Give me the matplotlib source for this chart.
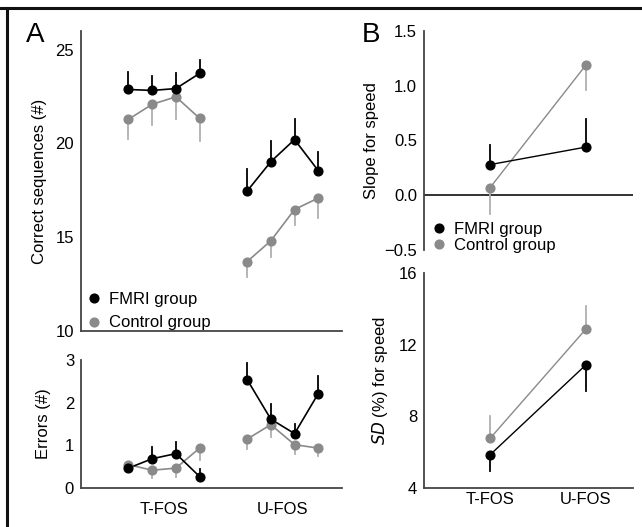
import matplotlib
matplotlib.use('Agg')
import matplotlib.pyplot as plt
from matplotlib.lines import Line2D

plt.rcParams['font.family'] = ['Liberation Sans', 'DejaVu Sans']
plt.rcParams['font.size'] = 12

# Panel A: sessions (4 T-FOS, 4 U-FOS)
sessions = [0, 1, 2, 3, 5, 6, 7, 8]
seq_fmri = [22.88, 22.83, 22.93, 23.74, 17.46, 19.03, 20.21, 18.55]
seq_fmri_err = [0.94, 0.78, 0.81, 0.71, 1.18, 1.08, 1.08, 0.99]
seq_ctrl = [21.29, 22.09, 22.49, 21.34, 13.70, 14.81, 16.48, 17.09]
seq_ctrl_err = [1.06, 1.12, 1.16, 1.23, 0.80, 0.85, 0.84, 1.05]

err_fmri = [0.46, 0.68, 0.80, 0.26, 2.54, 1.61, 1.27, 2.21]
err_fmri_err = [0.15, 0.28, 0.27, 0.18, 0.38, 0.35, 0.22, 0.41]
err_ctrl = [0.54, 0.41, 0.46, 0.93, 1.14, 1.48, 1.01, 0.93]
err_ctrl_err = [0.15, 0.19, 0.20, 0.29, 0.24, 0.29, 0.23, 0.19]

tick_a = [1.5, 6.5]
conditions = ['T-FOS', 'U-FOS']

# Panel B
cond_x = [0, 1]
slope_fmri = [0.28, 0.44]
slope_fmri_err = [0.18, 0.26]
slope_ctrl = [0.07, 1.19]
slope_ctrl_err = [0.24, 0.23]

sd_fmri = [5.84, 10.87]
sd_fmri_err = [0.91, 1.45]
sd_ctrl = [6.76, 12.87]
sd_ctrl_err = [1.24, 1.30]

BLACK = '#000000'
GRAY = '#8a8a8a'
ERR_GRAY = '#b0b0b0'
SPINE = '#444444'
MS = 6.3


def draw_group(ax, x, y, err, color, ecolor, direction, lw=1.2):
    # one-sided error bars, no caps
    for xi, yi, ei in zip(x, y, err):
        ax.plot([xi, xi], [yi, yi + direction * ei], color=ecolor, lw=1.3, zorder=1)
    ax.plot(x, y, color=color, lw=lw, zorder=2)
    ax.plot(x, y, 'o', color=color, markersize=MS, markeredgecolor=color, zorder=3)


def style(ax):
    for s in ['top', 'right']:
        ax.spines[s].set_visible(False)
    for s in ['left', 'bottom']:
        ax.spines[s].set_color(SPINE)
        ax.spines[s].set_linewidth(1.3)
    ax.tick_params(length=0, pad=5, labelsize=12)


def split(values, n=4):
    return values[:n], values[n:]


def draw_split(ax, y, err, color, ecolor, direction):
    xs1, xs2 = split(sessions)
    y1, y2 = split(y)
    e1, e2 = split(err)
    draw_group(ax, xs1, y1, e1, color, ecolor, direction)
    draw_group(ax, xs2, y2, e2, color, ecolor, direction)


fig = plt.figure(figsize=(6.42, 5.27), dpi=100)

h1 = [Line2D([], [], ls='', marker='o', color=BLACK, markersize=MS),
      Line2D([], [], ls='', marker='o', color=GRAY, markersize=MS)]

# A top: correct sequences
ax1 = fig.add_axes([0.1262, 0.3719, 0.4065, 0.5693])
draw_split(ax1, seq_ctrl, seq_ctrl_err, GRAY, ERR_GRAY, -1)
draw_split(ax1, seq_fmri, seq_fmri_err, BLACK, BLACK, 1)
ax1.set_xlim(-2, 9)
ax1.set_ylim(10, 26)
ax1.set_yticks([10, 15, 20, 25])
ax1.set_xticks([])
ax1.set_ylabel('Correct sequences (#)', fontsize=12, labelpad=6)
style(ax1)
ax1.legend(h1, ['FMRI group', 'Control group'], loc='lower left',
           bbox_to_anchor=(0.0, -0.02), frameon=False, handlelength=0.8,
           handletextpad=0.5, labelspacing=0.5, borderaxespad=0.0, fontsize=12)

# A bottom: errors
ax2 = fig.add_axes([0.1262, 0.0746, 0.4065, 0.2424])
draw_split(ax2, err_ctrl, err_ctrl_err, GRAY, ERR_GRAY, -1)
draw_split(ax2, err_fmri, err_fmri_err, BLACK, BLACK, 1)
ax2.set_xlim(-2, 9)
ax2.set_ylim(0, 3)
ax2.set_yticks([0, 1, 2, 3])
ax2.set_xticks(tick_a)
ax2.set_xticklabels(conditions)
ax2.set_ylabel('Errors (#)', fontsize=12, labelpad=10)
style(ax2)
ax2.tick_params(axis='x', pad=10)

# B top: slope for speed
ax3 = fig.add_axes([0.6604, 0.5256, 0.3255, 0.4156])
draw_group(ax3, cond_x, slope_ctrl, slope_ctrl_err, GRAY, ERR_GRAY, -1, lw=1.0)
draw_group(ax3, cond_x, slope_fmri, slope_fmri_err, BLACK, BLACK, 1, lw=1.0)
ax3.axhline(0, color='#222222', lw=1.3, zorder=0)
ax3.set_xlim(-0.69, 1.49)
ax3.set_ylim(-0.5, 1.5)
ax3.set_yticks([-0.5, 0.0, 0.5, 1.0, 1.5])
ax3.set_yticklabels(['\u22120.5', '0.0', '0.5', '1.0', '1.5'])
ax3.set_xticks([])
ax3.set_ylabel('Slope for speed', fontsize=12, labelpad=4)
style(ax3)
ax3.spines['bottom'].set_visible(False)
ax3.legend(h1, ['FMRI group', 'Control group'], loc='lower left',
           bbox_to_anchor=(0.01, -0.045), frameon=False, handlelength=0.8,
           handletextpad=0.5, labelspacing=0.1, borderaxespad=0.0, fontsize=12)

# B bottom: SD for speed
ax4 = fig.add_axes([0.6604, 0.0746, 0.3255, 0.4074])
draw_group(ax4, cond_x, sd_ctrl, sd_ctrl_err, GRAY, ERR_GRAY, 1, lw=1.0)
draw_group(ax4, cond_x, sd_fmri, sd_fmri_err, BLACK, BLACK, -1, lw=1.0)
ax4.set_xlim(-0.69, 1.49)
ax4.set_ylim(4, 16)
ax4.set_yticks([4, 8, 12, 16])
ax4.set_xticks(cond_x)
ax4.set_xticklabels(conditions)
ax4.set_ylabel('$\\mathit{SD}$ (%) for speed', fontsize=12, labelpad=6)
style(ax4)
ax4.tick_params(axis='x', pad=3)

# panel letters
fig.text(26 / 642, 1 - 35 / 527, 'A', fontsize=20, va='center', ha='left')
fig.text(362 / 642, 1 - 35 / 527, 'B', fontsize=20, va='center', ha='left')

# frame lines on top and left
fig.add_artist(Line2D([0, 1], [1 - 7.5 / 527, 1 - 7.5 / 527], color='#111111', lw=2.2,
                      transform=fig.transFigure))
fig.add_artist(Line2D([7 / 642, 7 / 642], [0, 1 - 7.5 / 527], color='#111111', lw=2.2,
                      transform=fig.transFigure))

fig.savefig('out.png', dpi=100)
